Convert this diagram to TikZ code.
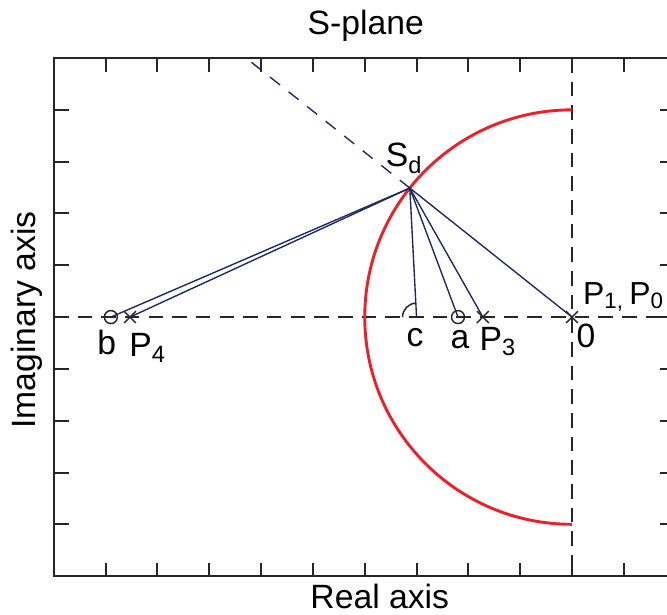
\documentclass[tikz,border=0pt]{standalone}
\usepackage{fontspec}
\setmainfont{Liberation Sans}
\usetikzlibrary{shapes.misc}
\definecolor{navy}{RGB}{28,38,98}
\definecolor{locusred}{RGB}{236,32,40}

\begin{document}
\begin{tikzpicture}[
    lbl/.style={font=\fontsize{18.5}{22}\selectfont, inner sep=0pt},
    framestyle/.style={line width=1.1pt, black!85},
    zeromark/.style={circle, draw=black!85, line width=0.8pt, minimum size=0.25cm, inner sep=0pt},
    polemark/.style={cross out, draw=black!85, line width=0.8pt, minimum size=0.2cm, inner sep=0pt},
    rayline/.style={navy, line width=0.75pt},
    axisdash/.style={black!85, line width=0.8pt, dash pattern=on 8pt off 5pt}
  ]
  \useasboundingbox (-11.04,-5.75) rectangle (1.834,6.12);
  \clip (-11.04,-5.75) rectangle (1.834,6.12);

  % Frame with ticks
  \draw[framestyle] (-10,-5) rectangle (2,5);
  \foreach \x in {-9,...,1} {
    \draw[framestyle] (\x,5) -- (\x,4.73);
    \draw[framestyle] (\x,-5) -- (\x,-4.75);
  }
  \foreach \y in {-4,...,4} {
    \draw[framestyle] (-10,\y) -- (-9.7,\y);
    \draw[framestyle] (2,\y) -- (1.7,\y);
  }

  % Real and imaginary axes
  \draw[axisdash] (-10,0) -- (2,0);
  \draw[axisdash] (0,5) -- (0,-5);

  % Locus circle
  \draw[locusred, line width=1.6pt] (0,4) arc (90:270:4);

  % Poles, zeros and the design point
  \coordinate (Sd) at (-3.13,2.49);
  \coordinate (dtop) at (-6.29,5);
  \coordinate (c) at (-3.0,0);
  \node[zeromark] (b) at (-8.9,0) {};
  \node[polemark] (p4) at (-8.53,0) {};
  \node[zeromark] (a) at (-2.2,0) {};
  \node[polemark] (p3) at (-1.72,0) {};
  \node[polemark] (p0) at (0,0) {};

  % Damping line
  \draw[navy, line width=0.75pt, dash pattern=on 7pt off 6pt] (Sd) -- (dtop);

  % Vectors from Sd
  \draw[rayline] (Sd) -- (b.center);
  \draw[rayline] (Sd) -- (p4.center);
  \draw[rayline] (Sd) -- (c);
  \draw[rayline] (Sd) -- (a.center);
  \draw[rayline] (Sd) -- (p3.center);
  \draw[rayline] (Sd) -- (p0.center);

  % Angle mark at c
  \draw[black!85, line width=0.8pt] ([shift={(180:0.27)}]c) arc (180:92:0.27);

  % Labels
  \node[lbl, anchor=base] (lsd) at (-3.24,2.9) {S\textsubscript{d}};
  \node[lbl, anchor=base] (lb) at (-8.98,-0.73) {b};
  \node[lbl, anchor=base] (lp4) at (-8.19,-0.77) {P\textsubscript{4}};
  \node[lbl, anchor=base] (lc) at (-3.03,-0.56) {c};
  \node[lbl, anchor=base] (la) at (-2.16,-0.6) {a};
  \node[lbl, anchor=base] (lp3) at (-1.43,-0.64) {P\textsubscript{3}};
  \node[lbl, anchor=base] (l0) at (0.27,-0.58) {0};
  \node[lbl, anchor=base west, font=\fontsize{17.5}{21}\selectfont] (lp10) at (0.21,0.25) {P\textsubscript{1,}\,P\textsubscript{0}};

  \node[lbl, anchor=base] (title) at (-3.98,5.45) {S-plane};
  \node[lbl, anchor=base] (xlab) at (-3.71,-5.62) {Real axis};
  \node[lbl, rotate=90] (ylab) at (-10.52,-0.06) {Imaginary axis};
\end{tikzpicture}
\end{document}
